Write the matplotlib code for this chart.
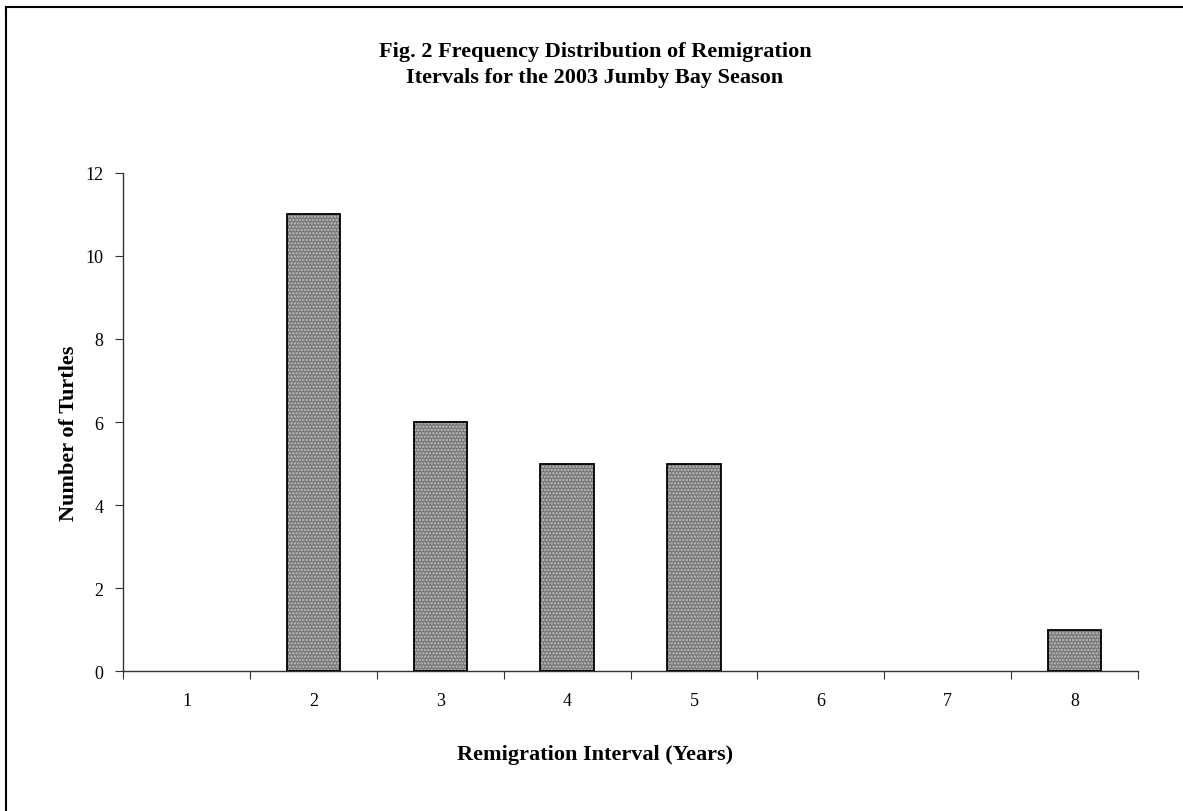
import numpy as np
import matplotlib
matplotlib.use("Agg")
import matplotlib.pyplot as plt
from matplotlib.lines import Line2D

# remigration intervals (years) and turtle counts
intervals = ["1", "2", "3", "4", "5", "6", "7", "8"]
counts = [0, 11, 6, 5, 5, 0, 0, 1]
yticks = [0, 2, 4, 6, 8, 10, 12]

plt.rcParams['font.family'] = ['Liberation Serif', 'DejaVu Serif']
plt.rcParams['hatch.linewidth'] = 1.2

fig = plt.figure(figsize=(11.83, 8.12), dpi=100)
ax = fig.add_axes([0.104, 0.172, 0.858, 0.614])

x = np.arange(len(intervals))
cnt = np.array(counts, dtype=float)
# empty intervals get no bar at all
cnt = np.where(cnt > 0, cnt, np.nan)
# patterned fill, then black outline
ax.bar(x, cnt, width=0.42, color='#757575', hatch='.....',
       edgecolor='#c0c0c0', linewidth=0, zorder=2)
ax.bar(x, cnt, width=0.42, fill=False, edgecolor='black', linewidth=1.3, zorder=3)

ax.set_xlim(-0.5, len(intervals) - 0.5)
ax.set_ylim(0, 12)
ax.set_yticks(yticks)
ax.set_yticklabels([str(v) for v in yticks])
# ticks sit between categories, labels centered on them
ax.set_xticks(np.arange(len(intervals) + 1) - 0.5)
ax.set_xticklabels([])
ax.set_xticks(x, minor=True)
ax.set_xticklabels(intervals, minor=True)
ax.tick_params(axis='x', which='minor', length=0, pad=15, labelsize=13)
ax.tick_params(axis='x', which='major', length=6, direction='out', color='#333333')
ax.tick_params(axis='y', length=6, direction='out', labelsize=13, pad=8, color='#333333')

for s in ['top', 'right']:
    ax.spines[s].set_visible(False)
for s in ['left', 'bottom']:
    ax.spines[s].set_color('#333333')
    ax.spines[s].set_linewidth(1.0)

ax.set_xlabel("Remigration Interval (Years)", fontsize=16, fontweight='bold', labelpad=22)
ax.xaxis.set_label_coords(0.465, -0.145)
ax.set_ylabel("Number of Turtles", fontsize=16, fontweight='bold', labelpad=3)
ax.yaxis.set_label_coords(-0.043, 0.48)

fig.text(0.503, 0.92, "Fig. 2 Frequency Distribution of Remigration\nItervals for the 2003 Jumby Bay Season",
         ha='center', va='center', fontsize=16, fontweight='bold', linespacing=1.35)

# chart-area frame (top and left edges visible)
fig.add_artist(Line2D([6 / 1183, 6 / 1183], [0, 1 - 8 / 812], transform=fig.transFigure,
                      color='black', linewidth=1.5))
fig.add_artist(Line2D([6 / 1183, 1], [1 - 8 / 812, 1 - 8 / 812], transform=fig.transFigure,
                      color='black', linewidth=1.5))

fig.savefig("out.png", dpi=100)
